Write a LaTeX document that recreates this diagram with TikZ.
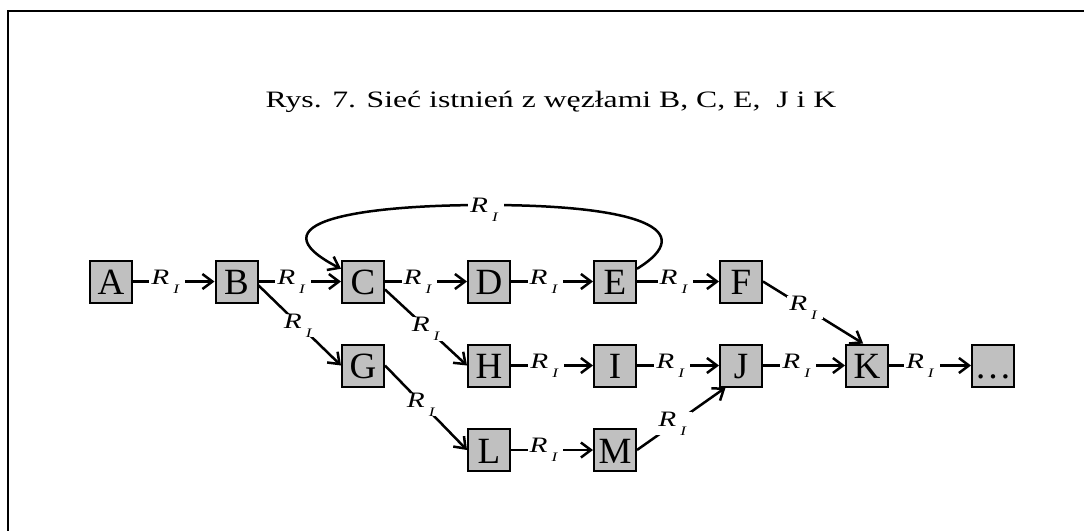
\documentclass[tikz,border=0pt]{standalone}
\usepackage{fontspec}
\setmainfont{Liberation Serif}
\usetikzlibrary{arrows.meta}
\definecolor{boxgray}{RGB}{192,192,192}
\newcommand\rlab{\scalebox{1.33}[1]{\fontsize{22}{22}\selectfont\itshape R\kern3pt\raisebox{-9pt}{\fontsize{13}{13}\selectfont I}\kern3pt}}
\begin{document}
\begin{tikzpicture}[x=1pt,y=-1pt,
  nbox/.style={draw, line width=2pt, fill=boxgray, minimum width=42pt, minimum height=42pt,
    inner sep=0pt, text height=26pt, text depth=0pt, font=\fontsize{37}{37}\selectfont},
  arr/.style={line width=2.5pt, -{Straight Barb[length=10pt,width=15pt]}},
  lab/.style={fill=white, inner xsep=2pt, inner ysep=0pt}]
\useasboundingbox (0,0) rectangle (1084,530);
\draw[line width=2.3pt] (1090,11.2) -- (7.7,11.2) -- (7.7,536);
\node[anchor=base, font=\fontsize{23.5}{23.5}\selectfont] (title) at (551,107.5)
  {\scalebox{1.35}[1]{Rys. 7. Sieć istnień z węzłami B, C, E,\ \ J i K}};
% row 1
\node[nbox] (A) at (111,281.5) {A};
\node[nbox] (B) at (236.5,281.5) {B};
\node[nbox] (C) at (363,281.5) {C};
\node[nbox] (D) at (489,281.5) {D};
\node[nbox] (E) at (615,281.5) {E};
\node[nbox] (F) at (741,281.5) {F};
% row 2
\node[nbox] (G) at (363,365.5) {G};
\node[nbox] (H) at (489,365.5) {H};
\node[nbox] (I) at (615,365.5) {I};
\node[nbox] (J) at (741,365.5) {J};
\node[nbox] (K) at (867,365.5) {K};
\node[nbox] (X) at (993,365.5) {…};
% row 3
\node[nbox] (L) at (489,450) {L};
\node[nbox] (M) at (615,450) {M};
% horizontal edges
\draw[arr] (A) -- node[lab,pos=0.42]{\rlab} (B);
\draw[arr] (B) -- node[lab,pos=0.42]{\rlab} (C);
\draw[arr] (C) -- node[lab,pos=0.42]{\rlab} (D);
\draw[arr] (D) -- node[lab,pos=0.42]{\rlab} (E);
\draw[arr] (E) -- node[lab,pos=0.47]{\rlab} (F);
\draw[arr] (H) -- node[lab,pos=0.43]{\rlab} (I);
\draw[arr] (I) -- node[lab,pos=0.43]{\rlab} (J);
\draw[arr] (J) -- node[lab,pos=0.43]{\rlab} (K);
\draw[arr] (K) -- node[lab,pos=0.40]{\rlab} (X);
\draw[arr] (L) -- node[lab,pos=0.42]{\rlab} (M);
% diagonal edges
\draw[arr] (B.-10) -- node[lab,pos=0.5]{\rlab} (G.west);
\draw[arr] (C.-20) -- node[lab,pos=0.52]{\rlab} (H.west);
\draw[arr] (G.east) -- node[lab,pos=0.46]{\rlab} (L.west);
\draw[arr] (F.east) -- node[lab,pos=0.42]{\rlab} (K.100);
\draw[arr] (M.east) -- node[lab,pos=0.42]{\rlab} (J.-125);
% loop E -> C
\draw[arr] (E.30) .. controls (700,230) and (640,205) .. (486,205)
  node[lab,yshift=-4.5pt]{\rlab}
  .. controls (360,205) and (250,222) .. (C.150);
\end{tikzpicture}
\end{document}
